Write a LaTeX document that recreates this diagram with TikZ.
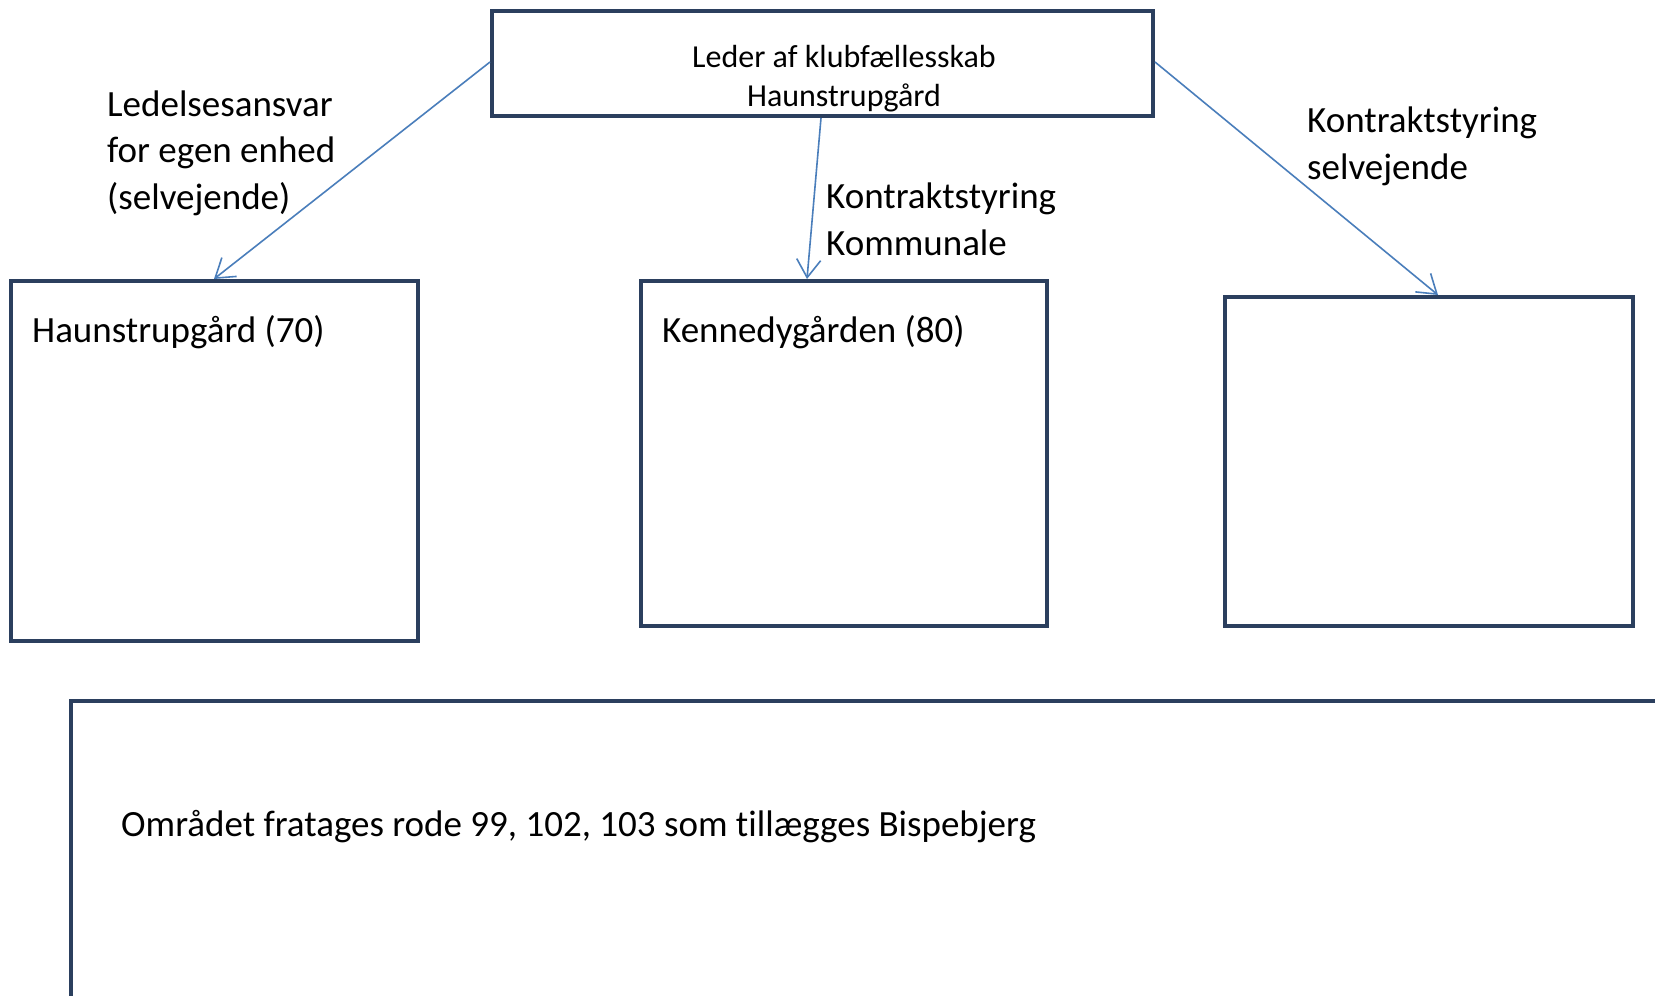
\documentclass[tikz,border=0pt]{standalone}
\usepackage{fontspec}
\setmainfont{Carlito}[Ligatures=NoCommon]
\usetikzlibrary{arrows.meta,calc}
\definecolor{boxcol}{RGB}{43,63,94}
\definecolor{arrcol}{RGB}{74,126,187}
\begin{document}
\begin{tikzpicture}[x=1pt,y=-1pt,
  box/.style={draw=boxcol,line width=4pt,inner sep=0pt,fill=white},
  arr/.style={draw=arrcol,line width=1.6pt,-{Straight Barb[length=18pt,width=24pt,line width=1.6pt]}},
  lbl/.style={inner sep=0pt,align=left,font=\fontsize{37}{46.5}\selectfont,text=black},
  toplbl/.style={inner sep=0pt,align=center,font=\fontsize{32}{39.5}\selectfont,text=black}]
\useasboundingbox (0,0) rectangle (1655,996);
\fill[white] (0,0) rectangle (1655,996);
% boxes
\node[box,minimum width=661pt,minimum height=105pt] (top) at (822.5,63.5) {};
\node[box,minimum width=407pt,minimum height=360pt] (b1) at (214,461) {};
\node[box,minimum width=406pt,minimum height=345pt] (b2) at (844,453.5) {};
\node[box,minimum width=408pt,minimum height=329pt] (b3) at (1429,461.5) {};
% bottom open box
\draw[boxcol,line width=4pt] (1665,701) -- (71,701) -- (71,1005);
% texts
\node[toplbl] (ttext) at (844,78.5) {Leder af klubfællesskab\\Haunstrupgård};
\node[lbl,anchor=west] (l1) at (107,153) {Ledelsesansvar\\for egen enhed\\(selvejende)};
\node[lbl,anchor=west] (l2) at (826,219.5) {Kontraktstyring\\Kommunale};
\node[lbl,anchor=west] (l3) at (1307,146.5) {Kontraktstyring\\selvejende};
\node[lbl,anchor=west] (t1) at (32,332) {Haunstrupgård (70)};
\node[lbl,anchor=west] (t2) at (662,332) {Kennedygården (80)};
\node[lbl,anchor=west] (t4) at (121,827) {Området fratages rode 99, 102, 103 som tillægges Bispebjerg};
% arrows
\draw[arr] ([yshift=1.5pt]top.west) -- (b1.north);
\draw[arr] ([xshift=-1.5pt]top.south) -- ([xshift=-37pt]b2.north);
\draw[arr] ([yshift=1.5pt]top.east) -- ([xshift=9pt]b3.north);
\end{tikzpicture}
\end{document}
